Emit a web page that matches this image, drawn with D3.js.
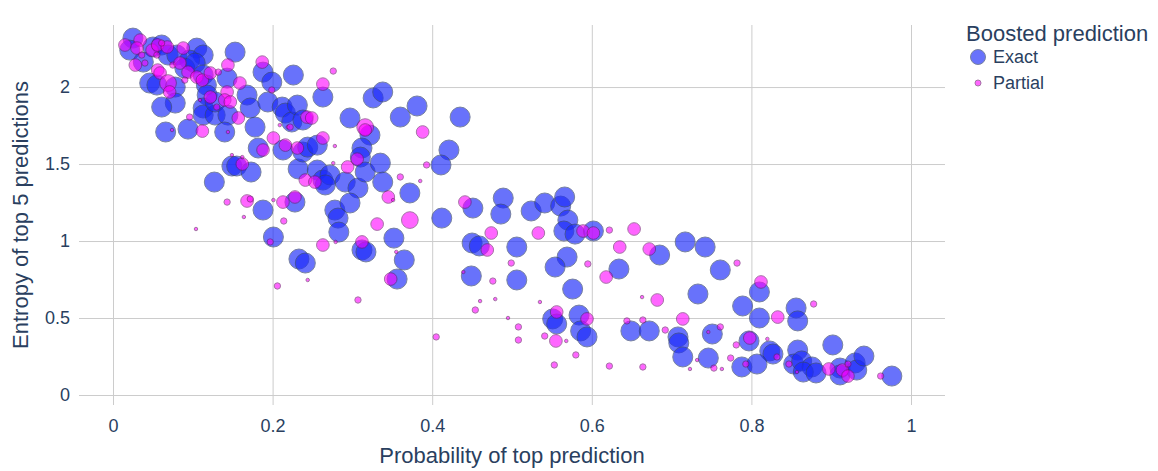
<!DOCTYPE html>
<html>
<head>
<meta charset="utf-8">
<script src="https://cdn.jsdelivr.net/npm/d3@7"></script>
<style>
  html, body { margin: 0; padding: 0; background: #fff; }
  svg { display: block; font-family: "Liberation Sans", Arial, sans-serif; }
</style>
</head>
<body>
<svg id="chart" width="1158" height="471"></svg>
<script>
// ---------- data ----------
const xTicks = [0, 0.2, 0.4, 0.6, 0.8, 1];
const yTicks = [0, 0.5, 1, 1.5, 2];
const xTickLabels = ["0", "0.2", "0.4", "0.6", "0.8", "1"];
const yTickLabels = ["0", "0.5", "1", "1.5", "2"];
const seriesNames = ["Exact", "Partial"];

const exactX = [0.025,0.021,0.050,0.061,0.069,0.080,0.105,0.113,0.096,0.038,0.090,0.103,0.153,0.046,0.055,0.078,0.113,0.117,0.143,0.118,
  0.113,0.113,0.078,0.061,0.066,0.094,0.128,0.128,0.144,0.140,0.168,0.172,0.178,0.188,0.199,0.194,0.212,0.216,0.226,0.224,
  0.182,0.213,0.149,0.155,0.173,0.127,0.232,0.256,0.263,0.228,0.188,0.201,0.233,0.241,0.263,0.326,0.338,0.381,0.360,0.435,
  0.231,0.238,0.297,0.322,0.238,0.244,0.256,0.312,0.310,0.272,0.266,0.291,0.307,0.316,0.335,0.338,0.372,0.278,0.297,0.282,
  0.283,0.412,0.421,0.411,0.451,0.352,0.312,0.317,0.365,0.356,0.489,0.486,0.524,0.541,0.561,0.566,0.570,0.565,0.579,0.602,
  0.450,0.459,0.506,0.569,0.554,0.634,0.449,0.506,0.576,0.551,0.556,0.584,0.586,0.594,0.649,0.672,0.685,0.717,0.742,0.761,
  0.733,0.789,0.810,0.810,0.856,0.858,0.708,0.709,0.751,0.714,0.746,0.797,0.823,0.827,0.858,0.902,0.788,0.807,0.853,0.863,
  0.876,0.865,0.881,0.911,0.911,0.930,0.932,0.941,0.976];
const exactY = [2.318,2.240,2.260,2.273,2.208,2.208,2.253,2.208,2.175,2.162,2.123,2.156,2.227,2.026,2.013,2.000,2.078,2.013,2.058,1.948,
  1.864,1.818,1.896,1.870,1.708,1.727,1.818,1.903,1.818,1.708,1.948,1.864,1.740,2.097,2.032,1.903,1.870,1.831,2.078,1.773,
  1.604,1.591,1.487,1.487,1.448,1.383,1.468,1.461,1.396,1.253,1.201,1.026,0.883,0.857,1.935,1.929,1.968,1.877,1.805,1.805,
  1.883,1.786,1.799,1.688,1.578,1.610,1.623,1.604,1.545,1.429,1.364,1.383,1.344,1.448,1.506,1.383,1.312,1.201,1.247,1.149,
  1.058,1.149,1.591,1.494,1.214,1.019,0.942,0.929,0.877,0.753,1.279,1.175,1.195,1.247,1.227,1.286,1.136,1.065,1.045,1.065,
  0.987,0.968,0.961,0.896,0.831,0.818,0.773,0.747,0.688,0.494,0.461,0.519,0.416,0.377,0.416,0.416,0.909,0.994,0.961,0.812,
  0.656,0.578,0.669,0.500,0.565,0.481,0.377,0.338,0.396,0.247,0.240,0.351,0.286,0.266,0.292,0.325,0.182,0.201,0.201,0.221,
  0.182,0.149,0.143,0.175,0.130,0.208,0.162,0.253,0.123];
const exactSize = exactX.map(() => 1.0);

const partialX = [0.015,0.034,0.030,0.036,0.049,0.056,0.068,0.088,0.055,0.028,0.040,0.056,0.059,0.075,0.084,0.094,0.090,0.069,0.071,0.105,
  0.112,0.122,0.132,0.144,0.143,0.122,0.109,0.140,0.147,0.130,0.061,0.096,0.112,0.074,0.144,0.187,0.199,0.201,0.209,0.219,
  0.216,0.188,0.159,0.157,0.276,0.263,0.231,0.243,0.249,0.222,0.263,0.278,0.316,0.316,0.306,0.294,0.276,0.241,0.253,0.228,
  0.213,0.345,0.351,0.360,0.385,0.393,0.388,0.441,0.372,0.331,0.162,0.149,0.162,0.143,0.168,0.172,0.201,0.164,0.104,0.214,
  0.197,0.263,0.279,0.312,0.355,0.348,0.244,0.206,0.307,0.405,0.474,0.533,0.589,0.602,0.622,0.653,0.635,0.672,0.469,0.499,
  0.595,0.618,0.439,0.476,0.663,0.682,0.460,0.479,0.454,0.535,0.495,0.556,0.594,0.508,0.541,0.555,0.568,0.508,0.580,0.644,
  0.664,0.553,0.622,0.664,0.782,0.812,0.878,0.714,0.692,0.761,0.746,0.833,0.798,0.820,0.781,0.832,0.774,0.732,0.793,0.753,
  0.763,0.723,0.847,0.857,0.897,0.914,0.921,0.921,0.962];
const partialY = [2.273,2.305,2.253,2.208,2.240,2.273,2.260,2.253,2.208,2.143,2.156,2.110,2.091,2.143,2.156,2.097,2.045,2.026,1.968,2.065,
  2.045,2.091,2.097,2.143,1.968,1.935,1.916,1.916,1.903,1.870,2.286,1.805,1.714,1.721,1.708,2.162,1.981,1.669,1.753,1.740,
  1.623,1.591,2.026,1.799,2.104,2.019,1.604,1.805,1.799,1.740,1.669,1.617,1.740,1.721,1.532,1.481,1.506,1.396,1.383,1.286,
  1.253,1.286,1.266,1.416,1.390,1.494,1.708,1.253,1.136,1.110,1.500,1.558,1.545,1.253,1.260,1.273,1.266,1.156,1.078,1.130,
  0.994,0.974,0.994,0.994,0.929,0.753,0.747,0.708,0.617,0.377,1.052,1.052,1.065,1.052,1.071,1.078,0.961,0.948,0.942,0.857,
  0.851,0.766,0.799,0.740,0.636,0.617,0.610,0.623,0.552,0.604,0.500,0.539,0.494,0.442,0.383,0.351,0.351,0.357,0.260,0.481,
  0.487,0.195,0.188,0.182,0.857,0.734,0.591,0.494,0.422,0.442,0.409,0.506,0.370,0.364,0.325,0.247,0.240,0.227,0.201,0.175,
  0.169,0.169,0.201,0.149,0.169,0.162,0.123,0.201,0.123];
const partialSize = [0.4,0.4,0.4,0.1,0.4,0.4,0.4,0.4,0.1,0.4,0.1,0.4,0.4,0.1,0.4,0.4,0.1,0.7,0.4,0.4,
  0.4,0.4,0.1,0.4,0.4,0.4,0.03,0.4,0.4,0.1,0.1,0.1,0.4,0.03,0.03,0.4,0.1,0.4,0.03,0.03,
  0.4,0.4,0.4,0.4,0.1,0.4,0.4,0.4,0.4,0.1,0.4,0.03,0.7,0.4,0.4,0.4,0.03,0.4,0.4,0.4,
  0.4,0.4,0.03,0.1,0.03,0.1,0.4,0.4,0.7,0.4,0.4,0.03,0.03,0.1,0.4,0.1,0.03,0.03,0.03,0.1,
  0.1,0.4,0.03,0.4,0.03,0.4,0.03,0.1,0.1,0.1,0.4,0.4,0.4,0.4,0.1,0.4,0.4,0.4,0.4,0.1,
  0.1,0.4,0.03,0.1,0.03,0.4,0.03,0.03,0.1,0.03,0.03,0.4,0.4,0.1,0.1,0.4,0.03,0.1,0.1,0.1,
  0.1,0.1,0.1,0.1,0.1,0.4,0.1,0.4,0.1,0.1,0.03,0.4,0.4,0.03,0.1,0.1,0.1,0.03,0.1,0.1,
  0.03,0.03,0.1,0.03,0.4,0.4,0.4,0.1,0.1];

// ---------- layout ----------
const svg = d3.select("#chart");
const plot = { left: 79, right: 945, top: 25, bottom: 405 };
const textColor = "#2a3f5f";
const gridColor = "#cccccc";

const x = d3.scaleLinear().domain([-0.0426, 1.0426]).range([plot.left, plot.right]);
const y = d3.scaleLinear().domain([-0.065, 2.403]).range([plot.bottom, plot.top]);
const r = d3.scaleSqrt().domain([0, 1]).range([0, 10]);

const gx = svg.append("g").attr("transform", `translate(0,${plot.bottom})`)
  .call(d3.axisBottom(x).tickValues(xTicks).tickSize(-(plot.bottom - plot.top)).tickFormat((d, i) => xTickLabels[i]));
gx.select(".domain").remove();
gx.selectAll(".tick line").attr("stroke", gridColor).attr("stroke-width", 1);
gx.selectAll(".tick text").attr("fill", textColor).attr("font-size", 18)
  .attr("font-family", "'Liberation Sans', Arial, sans-serif").attr("y", 14).attr("dy", "0.71em");

const gy = svg.append("g").attr("transform", `translate(${plot.left},0)`)
  .call(d3.axisLeft(y).tickValues(yTicks).tickSize(-(plot.right - plot.left)).tickFormat((d, i) => yTickLabels[i]));
gy.select(".domain").remove();
gy.selectAll(".tick line").attr("stroke", gridColor).attr("stroke-width", 1);
gy.selectAll(".tick text").attr("fill", textColor).attr("font-size", 18)
  .attr("font-family", "'Liberation Sans', Arial, sans-serif").attr("x", -9);

const exact = exactX.map((d, i) => ({ x: d, y: exactY[i], s: exactSize[i] }));
const partial = partialX.map((d, i) => ({ x: d, y: partialY[i], s: partialSize[i] }));

const colors = { Exact: "rgb(25,40,250)", Partial: "#ff00ff" };
const strokes = { Exact: "#2f3f6f", Partial: "#6a1a6a" };
const opac = { Exact: 0.65, Partial: 0.6 };

svg.append("g").selectAll("circle").data(exact).join("circle")
  .attr("cx", d => x(d.x)).attr("cy", d => y(d.y)).attr("r", d => r(d.s))
  .attr("fill", colors.Exact).attr("stroke", strokes.Exact).attr("stroke-width", 1).attr("opacity", opac.Exact);

svg.append("g").selectAll("circle").data(partial).join("circle")
  .attr("cx", d => x(d.x)).attr("cy", d => y(d.y)).attr("r", d => r(d.s))
  .attr("fill", colors.Partial).attr("stroke", strokes.Partial).attr("stroke-width", 1).attr("opacity", opac.Partial);

svg.append("text").attr("x", (plot.left + plot.right) / 2).attr("y", 463)
  .attr("text-anchor", "middle").attr("fill", textColor).attr("font-size", 22)
  .text("Probability of top prediction");
svg.append("text").attr("transform", `translate(28,${(plot.top + plot.bottom) / 2}) rotate(-90)`)
  .attr("text-anchor", "middle").attr("fill", textColor).attr("font-size", 22)
  .text("Entropy of top 5 predictions");

const lg = svg.append("g");
lg.append("text").attr("x", 966).attr("y", 41).attr("fill", textColor).attr("font-size", 22).text("Boosted prediction");
const legendItems = [
  { name: seriesNames[0], y: 57, r: 7.5 },
  { name: seriesNames[1], y: 83, r: 3 }
];
legendItems.forEach(it => {
  lg.append("circle").attr("cx", 978).attr("cy", it.y).attr("r", it.r)
    .attr("fill", colors[it.name]).attr("stroke", strokes[it.name])
    .attr("stroke-width", 1).attr("opacity", opac[it.name]);
  lg.append("text").attr("x", 993).attr("y", it.y).attr("dy", "0.35em")
    .attr("fill", textColor).attr("font-size", 18).text(it.name);
});
</script>
</body>
</html>
